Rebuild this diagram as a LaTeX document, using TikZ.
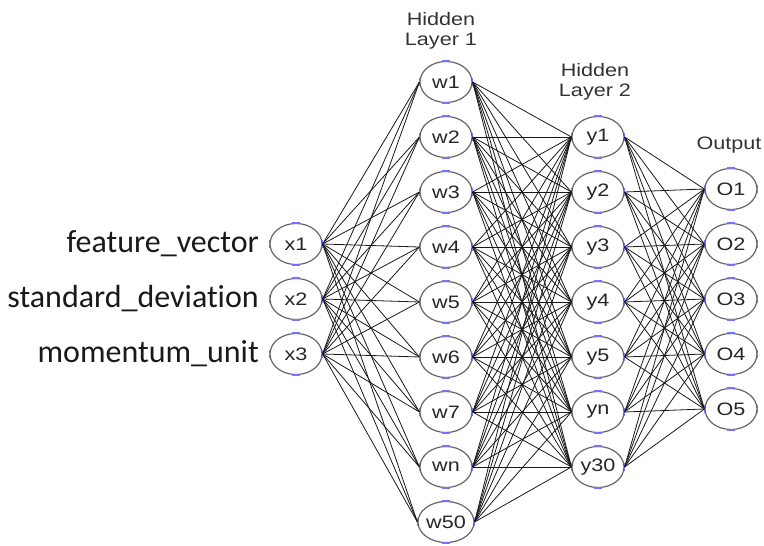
\documentclass[tikz,border=0pt]{standalone}
\usepackage{fontspec}
\setmainfont{Liberation Sans}
\newfontfamily\labelfont[Ligatures=NoCommon]{Carlito}
\usetikzlibrary{shapes.geometric}
\newcommand{\hwide}[1]{\scalebox{1.2}[1]{#1}}
\begin{document}
\begin{tikzpicture}[x=1pt,y=-1pt,
  neuron/.style={ellipse, draw=black!60, line width=1.2pt, fill=white,
    minimum width=52pt, minimum height=41pt, inner sep=0pt,
    text=black!85, font=\fontsize{18}{18}\selectfont},
  link/.style={draw=black!90, line width=0.8pt},
  bluetick/.style={draw=blue!55!white, line width=1.4pt},
  layertitle/.style={align=center, text=black!80, inner sep=0pt,
    font=\fontsize{18}{20}\selectfont},
  inputlabel/.style={anchor=east, inner sep=0pt, text=black!90,
    font=\labelfont\fontsize{32}{32}\selectfont}]
\useasboundingbox (0,0) rectangle (764,546);

% input layer
\foreach \t [count=\i] in {x1,x2,x3}
  \node[neuron] (x\i) at (296,{189+55*\i}) {\hwide{\t}};
% hidden layer 1
\foreach \t [count=\i] in {w1,w2,w3,w4,w5,w6,w7,wn,w50}
  \node[neuron] (w\i) at (446,{27+55*\i}) {\hwide{\t}};
% hidden layer 2
\foreach \t [count=\i] in {y1,y2,y3,y4,y5,yn,y30}
  \node[neuron] (y\i) at (598,{82+55*\i}) {\hwide{\t}};
% output layer
\foreach \t [count=\i] in {O1,O2,O3,O4,O5}
  \node[neuron] (o\i) at (731,{134+55*\i}) {\hwide{\t}};

% small blue handles on every neuron
\foreach \n in {x1,x2,x3,w1,w2,w3,w4,w5,w6,w7,w8,w9,y1,y2,y3,y4,y5,y6,y7,o1,o2,o3,o4,o5} {
  \draw[bluetick] ([xshift=-4pt]\n.north) -- ([xshift=4pt]\n.north);
  \draw[bluetick] ([xshift=-4pt]\n.south) -- ([xshift=4pt]\n.south);
  \draw[bluetick] ([yshift=-4pt]\n.west) -- ([yshift=4pt]\n.west);
  \draw[bluetick] ([yshift=-4pt]\n.east) -- ([yshift=4pt]\n.east);
}

% fully connected weights
\foreach \i in {1,...,3} \foreach \j in {1,...,9}
  \draw[link] (x\i.east) -- (w\j.west);
\foreach \i in {1,...,9} \foreach \j in {1,...,7}
  \draw[link] (w\i.east) -- (y\j.west);
\foreach \i in {1,...,7} \foreach \j in {1,...,5}
  \draw[link] (y\i.east) -- (o\j.west);

% layer titles
\node[layertitle] (t1) at (441,31) {\hwide{Hidden}\\\hwide{Layer 1}};
\node[layertitle] (t2) at (595,82) {\hwide{Hidden}\\\hwide{Layer 2}};
\node[layertitle] (t3) at (729,145) {\hwide{Output}};

% input names
\node[inputlabel] (l1) at (259,244) {feature\_vector};
\node[inputlabel] (l2) at (259,299) {standard\_deviation};
\node[inputlabel] (l3) at (259,354) {momentum\_unit};
\end{tikzpicture}
\end{document}
